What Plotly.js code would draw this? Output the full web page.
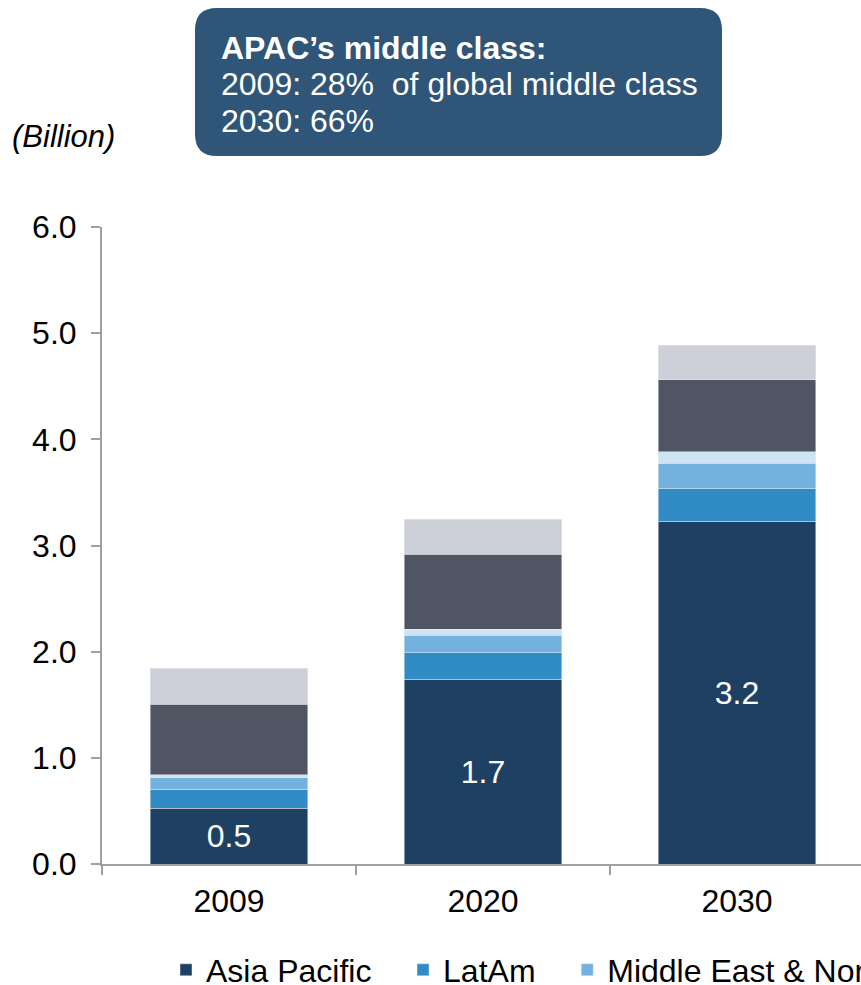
<!DOCTYPE html>
<html>
<head>
<meta charset="utf-8">
<script src="https://cdn.plot.ly/plotly-3.0.1.min.js"></script>
<style>
  html, body { margin: 0; padding: 0; background: #ffffff; overflow: hidden; }
  #chart { width: 2000px; height: 985px; }
</style>
</head>
<body>
<div id="chart"></div>
<script>
const years = ["2009", "2020", "2030"];

// middle class population, billion
const asiaPacific = [0.525, 1.740, 3.228];
const latAm = [0.181, 0.251, 0.313];
const menaRegion = [0.105, 0.165, 0.234];
const subSaharan = [0.032, 0.057, 0.107];
const europe = [0.664, 0.703, 0.680];
const northAmerica = [0.338, 0.333, 0.322];

const seriesNames = ["Asia Pacific", "LatAm", "Middle East & North Africa", "Sub-Saharan Africa", "Europe", "North America"];
const seriesValues = [asiaPacific, latAm, menaRegion, subSaharan, europe, northAmerica];
const seriesColors = ["#1e4062", "#318bc4", "#73b2de", "#cfe4f2", "#4f5562", "#cdd0d8"];

const boxLines = ["<b>APAC’s middle class:</b>", "2009: 28%  of global middle class", "2030: 66%"];

// pixel frame: the page is a crop of a wider chart
const W = 2000, H = 985;
const plotL = 102, plotR = 1980, plotT = 227, plotB = 864;
const axisEnd = 864; // right end of the x axis domain, px
const px2x = (px) => (px - plotL) / (plotR - plotL);
const px2y = (py) => (plotB - py) / (plotB - plotT);

const FONT = "Liberation Sans, Arial, sans-serif";
const legendPad = "\u00a0\u00a0\u00a0"; // wider gaps between legend entries

const traces = seriesNames.map((name, i) => ({
  type: "bar",
  name: name + legendPad,
  x: years,
  y: seriesValues[i],
  width: 0.62,
  marker: { color: seriesColors[i], line: { color: "rgba(235,238,242,0.6)", width: 0.8 } },
  texttemplate: i === 0 ? "%{y:.1f}" : "",
  textposition: i === 0 ? "inside" : "none",
  insidetextanchor: "middle",
  textfont: { color: "#ffffff", size: 32, family: FONT },
  hoverinfo: "x+y+name",
}));

// rounded callout box
function roundedBox(x0, y0, x1, y1, r) {
  const X = px2x, Y = px2y;
  return [
    `M${X(x0 + r)},${Y(y0)}`,
    `L${X(x1 - r)},${Y(y0)}`,
    `Q${X(x1)},${Y(y0)} ${X(x1)},${Y(y0 + r)}`,
    `L${X(x1)},${Y(y1 - r)}`,
    `Q${X(x1)},${Y(y1)} ${X(x1 - r)},${Y(y1)}`,
    `L${X(x0 + r)},${Y(y1)}`,
    `Q${X(x0)},${Y(y1)} ${X(x0)},${Y(y1 - r)}`,
    `L${X(x0)},${Y(y0 + r)}`,
    `Q${X(x0)},${Y(y0)} ${X(x0 + r)},${Y(y0)}`,
    "Z",
  ].join(" ");
}

const boxLineY = [48, 84, 121];
const annotations = boxLines.map((t, i) => ({
  xref: "paper", yref: "paper",
  x: px2x(219), y: px2y(boxLineY[i]),
  xanchor: "left", yanchor: "middle",
  text: t, showarrow: false,
  font: { color: "#ffffff", size: 32, family: FONT },
}));

annotations.push({
  xref: "paper", yref: "paper",
  x: px2x(10), y: px2y(137),
  xanchor: "left", yanchor: "middle",
  text: "<i>(Billion)</i>", showarrow: false,
  font: { color: "#000000", size: 31, family: FONT },
});

const layout = {
  width: W,
  height: H,
  barmode: "stack",
  margin: { l: plotL, r: W - plotR, t: plotT, b: H - plotB, autoexpand: false },
  paper_bgcolor: "#ffffff",
  plot_bgcolor: "#ffffff",
  font: { family: FONT, color: "#000000", size: 32 },
  showlegend: true,
  legend: {
    orientation: "h",
    traceorder: "normal",
    x: px2x(166), y: px2y(970),
    xanchor: "left", yanchor: "middle",
    font: { size: 32, family: FONT, color: "#000000" },
    bgcolor: "rgba(0,0,0,0)",
  },
  xaxis: {
    type: "category",
    domain: [0, px2x(axisEnd)],
    range: [-0.5, 2.5],
    showline: true, linecolor: "#a0a0a0", linewidth: 2,
    ticks: "outside", tickson: "boundaries", ticklen: 9, tickwidth: 2, tickcolor: "#a0a0a0",
    tickfont: { size: 32, family: FONT },
    ticklabelstandoff: 8,
    showgrid: false, zeroline: false,
  },
  yaxis: {
    range: [0, 6],
    dtick: 1,
    tickformat: ".1f",
    showline: true, linecolor: "#a0a0a0", linewidth: 2,
    ticks: "outside", ticklen: 9, tickwidth: 2, tickcolor: "#a0a0a0",
    tickfont: { size: 32, family: FONT },
    ticklabelstandoff: 8,
    showgrid: false, zeroline: false,
  },
  shapes: [{
    type: "path",
    xref: "paper", yref: "paper",
    path: roundedBox(195, 8, 722, 156, 22),
    fillcolor: "#2f5578",
    line: { width: 0 },
    layer: "above",
  }],
  annotations,
};

Plotly.newPlot("chart", traces, layout, { displayModeBar: false, staticPlot: true });
</script>
</body>
</html>
